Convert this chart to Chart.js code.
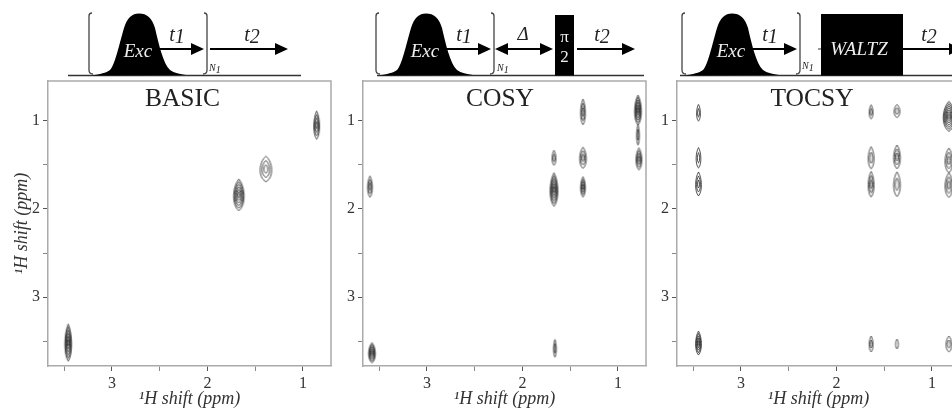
<!DOCTYPE html>
<html>
<head>
<meta charset="utf-8">
<script src="https://cdn.jsdelivr.net/npm/chart.js@4"></script>
<style>
html,body{margin:0;padding:0;background:#fff;width:952px;height:408px;overflow:hidden}
#page{position:relative;width:952px;height:408px;overflow:hidden;filter:blur(.35px)}
canvas{position:absolute;top:0}
svg{position:absolute;left:0;top:0}
svg text{font-family:"Liberation Serif",serif}
</style>
</head>
<body>
<div id="page">
<canvas id="c1" style="left:0"></canvas>
<canvas id="c2" style="left:315px"></canvas>
<canvas id="c3" style="left:629px"></canvas>
<svg width="952" height="408" viewBox="0 0 952 408">
  <defs>
    <g id="exc">
      <path fill="#000" d="M92 75.5C100 74 106 73 110 70C115 65 119 45 124 28C127 18 132 13.5 139 13.5C147 13.5 152 18 155 28C159 45 163 63 170 70C174 73 180 74 186 75Z"/>
      <path fill="none" stroke="#444" stroke-width="1.3" d="M92 13Q89 13 89 16L89 70Q89 74 93 74M204 13Q207 13 207 16L207 70Q207 74 203 74"/>
    </g>
    <g id="arrow">
      <path fill="#000" d="M0 0L-13 -6L-13 6Z"/>
    </g>
  </defs>

  <!-- BASIC -->
  <line x1="68" x2="301" y1="75.5" y2="75.5" stroke="#333" stroke-width="1.5"/>
  <use href="#exc"/>
  <line x1="158" x2="192" y1="49" y2="49" stroke="#000" stroke-width="2"/><use href="#arrow" x="204" y="49"/>
  <line x1="210" x2="277" y1="49" y2="49" stroke="#000" stroke-width="2"/><use href="#arrow" x="288" y="49"/>
  <text x="138" y="57" text-anchor="middle" font-size="19" font-style="italic" fill="#eee">Exc</text>
  <text x="177" y="41" text-anchor="middle" font-size="20" font-style="italic" fill="#222">t<tspan dy="2">1</tspan></text>
  <text x="252" y="41" text-anchor="middle" font-size="20" font-style="italic" fill="#222">t<tspan dy="2">2</tspan></text>
  <text x="209" y="71" font-size="10" font-style="italic" fill="#222">N<tspan dy="2">1</tspan></text>
  <text x="182.5" y="106" text-anchor="middle" font-size="25.5" fill="#222">BASIC</text>

  <!-- COSY -->
  <line x1="377" x2="644" y1="75.5" y2="75.5" stroke="#333" stroke-width="1.5"/>
  <use href="#exc" x="287"/>
  <line x1="445" x2="480" y1="49" y2="49" stroke="#000" stroke-width="2"/><use href="#arrow" x="491" y="49"/>
  <line x1="505" x2="542" y1="49" y2="49" stroke="#000" stroke-width="2"/><use href="#arrow" x="553" y="49"/>
  <use href="#arrow" transform="translate(495 49) scale(-1 1)"/>
  <rect x="555" y="15" width="19" height="60.5" fill="#000"/>
  <line x1="577" x2="625" y1="49" y2="49" stroke="#000" stroke-width="2"/><use href="#arrow" x="635" y="49"/>
  <text x="425" y="57" text-anchor="middle" font-size="19" font-style="italic" fill="#eee">Exc</text>
  <text x="464" y="41" text-anchor="middle" font-size="20" font-style="italic" fill="#222">t<tspan dy="2">1</tspan></text>
  <text x="523" y="40" text-anchor="middle" font-size="19" font-style="italic" fill="#222">Δ</text>
  <text x="564.5" y="42" text-anchor="middle" font-size="17" fill="#eee">π</text>
  <text x="564.5" y="62" text-anchor="middle" font-size="17" fill="#eee">2</text>
  <text x="602" y="41" text-anchor="middle" font-size="20" font-style="italic" fill="#222">t<tspan dy="2">2</tspan></text>
  <text x="497" y="71" font-size="10" font-style="italic" fill="#222">N<tspan dy="2">1</tspan></text>
  <text x="500" y="106" text-anchor="middle" font-size="25.5" fill="#222">COSY</text>

  <!-- TOCSY -->
  <line x1="680" x2="952" y1="75.5" y2="75.5" stroke="#333" stroke-width="1.5"/>
  <use href="#exc" x="593"/>
  <line x1="752" x2="786" y1="49" y2="49" stroke="#000" stroke-width="2"/><use href="#arrow" x="797" y="49"/>
  <line x1="818" x2="821" y1="49" y2="49" stroke="#333" stroke-width="1"/>
  <rect x="821" y="14" width="82" height="61.5" fill="#000"/>
  <line x1="903" x2="950" y1="49" y2="49" stroke="#000" stroke-width="2"/><use href="#arrow" x="962" y="49"/>
  <text x="731" y="57" text-anchor="middle" font-size="19" font-style="italic" fill="#eee">Exc</text>
  <text x="770" y="41" text-anchor="middle" font-size="20" font-style="italic" fill="#222">t<tspan dy="2">1</tspan></text>
  <text x="859" y="55" text-anchor="middle" font-size="19" font-style="italic" fill="#eee">WALTZ</text>
  <text x="929" y="41" text-anchor="middle" font-size="20" font-style="italic" fill="#222">t<tspan dy="2">2</tspan></text>
  <text x="802" y="69" font-size="10" font-style="italic" fill="#222">N<tspan dy="2">1</tspan></text>
  <text x="812" y="106" text-anchor="middle" font-size="25.5" fill="#222">TOCSY</text>
</svg>
</div>
<script>
// peak tables, all in ppm: centre x, centre y, contour width, contour height, number of contour levels
var basicX = [0.856, 1.388, 1.671, 3.458];
var basicY = [1.05, 1.546, 1.84, 3.515];
var basicW = [0.063, 0.126, 0.115, 0.073];
var basicH = [0.32, 0.29, 0.36, 0.42];
var basicL = [4, 3, 6, 6];

var cosyX = [0.79, 0.79, 0.78, 1.366, 1.366, 1.366, 1.67, 1.67, 3.597, 3.576, 1.66];
var cosyY = [0.88, 1.16, 1.433, 0.90, 1.42, 1.75, 1.42, 1.78, 1.747, 3.63, 3.58];
var cosyW = [0.073, 0.03, 0.063, 0.052, 0.073, 0.052, 0.042, 0.084, 0.052, 0.073, 0.03];
var cosyH = [0.34, 0.23, 0.25, 0.29, 0.24, 0.23, 0.17, 0.38, 0.24, 0.23, 0.2];
var cosyL = [6, 2, 4, 3, 3, 4, 2, 6, 3, 6, 2];

var tocsyX = [3.445, 3.445, 3.445, 3.445, 1.637, 1.637, 1.637, 1.637, 1.366, 1.366, 1.366, 1.366, 0.822, 0.822, 0.822, 0.822];
var tocsyY = [0.91, 1.42, 1.716, 3.52, 0.90, 1.42, 1.72, 3.53, 0.89, 1.41, 1.72, 3.53, 0.95, 1.45, 1.73, 3.53];
var tocsyW = [0.042, 0.052, 0.063, 0.063, 0.042, 0.063, 0.063, 0.042, 0.063, 0.073, 0.073, 0.03, 0.125, 0.084, 0.084, 0.063];
var tocsyH = [0.19, 0.23, 0.27, 0.27, 0.16, 0.25, 0.29, 0.18, 0.15, 0.27, 0.28, 0.11, 0.34, 0.28, 0.28, 0.18];
var tocsyL = [2, 2, 3, 5, 2, 2, 3, 2, 2, 3, 2, 1, 7, 3, 3, 2];

var xRange = [0.706, 3.67];
var yRange = [0.55, 3.78];
var tickStep = 0.5;
var tickLabels = [1, 2, 3];
var axisTitle = "\u00B9H shift (ppm)";

// 피크 하나를 등고선 캔버스로 그린다
function f_peak(p_w, p_h, p_levels){
  var v_c = document.createElement("canvas");
  v_c.width = Math.ceil(p_w) + 4;
  v_c.height = Math.ceil(p_h) + 4;
  var ctx = v_c.getContext("2d");
  ctx.translate(v_c.width / 2, v_c.height / 2);
  ctx.strokeStyle = "#222";
  ctx.lineWidth = 0.8;
  for(var i = 0; i < p_levels; i++){
    var k = 1 - i / p_levels;
    var w = p_w / 2 * k, h = p_h / 2 * k;
    ctx.beginPath();
    ctx.moveTo(0, -h);
    ctx.bezierCurveTo(w * 1.15, -h * 0.55, w * 1.4, h * 0.65, 0, h);
    ctx.bezierCurveTo(-w * 1.4, h * 0.65, -w * 1.15, -h * 0.55, 0, -h);
    ctx.stroke();
  }
  return v_c;
}

function f_points(xs, ys, ws, hs, ls){
  return xs.map(function(v, i){
    return {x: v, y: ys[i], w: ws[i], h: hs[i], l: ls[i]};
  });
}

// 위쪽, 오른쪽 테두리
var framePlugin = {
  id: "frame",
  afterDraw: function(chart){
    var a = chart.chartArea, ctx = chart.ctx;
    ctx.save();
    ctx.strokeStyle = "#aaa";
    ctx.lineWidth = 1.5;
    ctx.beginPath();
    ctx.moveTo(a.left, a.top);
    ctx.lineTo(a.right, a.top);
    ctx.lineTo(a.right, a.bottom);
    ctx.stroke();
    ctx.restore();
  }
};

function f_tickColor(c){
  return tickLabels.indexOf(c.tick.value) >= 0 ? "#555" : "#888";
}
function f_tickLabel(v){
  return tickLabels.indexOf(v) >= 0 ? String(v) : "";
}

function f_chart(p_id, p_points, p_yTitle){
  var v_canvas = document.getElementById(p_id);
  return new Chart(v_canvas, {
    type: "scatter",
    data: {
      datasets: [{
        data: p_points,
        pointRadius: 3,
        pointStyle: function(c){
          var sx = c.chart.scales.x, sy = c.chart.scales.y;
          var r = c.raw;
          if(!r) return "circle";
          return f_peak(
            Math.abs(sx.getPixelForValue(r.x + r.w) - sx.getPixelForValue(r.x)),
            Math.abs(sy.getPixelForValue(r.y + r.h) - sy.getPixelForValue(r.y)),
            r.l);
        }
      }]
    },
    options: {
      responsive: false,
      animation: false,
      layout: {padding: {top: 81, right: 2, left: 0, bottom: 0}},
      plugins: {legend: {display: false}, tooltip: {enabled: false}},
      scales: {
        x: {
          type: "linear", reverse: true, min: xRange[0], max: xRange[1],
          afterFit: function(s){ s.height = 42; s.paddingLeft = 0; s.paddingRight = 0; },
          border: {color: "#aaa", width: 1.5},
          grid: {drawOnChartArea: false, tickLength: 5, tickColor: f_tickColor},
          ticks: {stepSize: tickStep, includeBounds: false, autoSkip: false, maxRotation: 0, padding: 3, color: "#333",
                  font: {family: "Liberation Serif", size: 16}, callback: f_tickLabel},
          title: {display: true, text: axisTitle, color: "#333", padding: {top: 0, bottom: 0},
                  font: {family: "Liberation Serif", size: 18, style: "italic", lineHeight: 1}}
        },
        y: {
          type: "linear", reverse: true, min: yRange[0], max: yRange[1],
          afterFit: function(s){ s.width = 48; s.paddingTop = 0; s.paddingBottom = 0; },
          border: {color: "#aaa", width: 1.5},
          grid: {drawOnChartArea: false, tickLength: 5, tickColor: f_tickColor},
          ticks: {stepSize: tickStep, includeBounds: false, autoSkip: false, padding: 3, color: "#333",
                  font: {family: "Liberation Serif", size: 16}, callback: f_tickLabel},
          title: {display: p_yTitle, text: axisTitle, color: "#333", padding: {top: 13, bottom: 0},
                  font: {family: "Liberation Serif", size: 18, style: "italic", lineHeight: 1}}
        }
      }
    },
    plugins: [framePlugin]
  });
}

// 캔버스 크기
["c1", "c2", "c3"].forEach(function(id){
  var c = document.getElementById(id);
  c.width = 336; c.height = 408;
  c.style.width = "336px"; c.style.height = "408px";
});

f_chart("c1", f_points(basicX, basicY, basicW, basicH, basicL), true);
f_chart("c2", f_points(cosyX, cosyY, cosyW, cosyH, cosyL), false);
f_chart("c3", f_points(tocsyX, tocsyY, tocsyW, tocsyH, tocsyL), false);
</script>
</body>
</html>
